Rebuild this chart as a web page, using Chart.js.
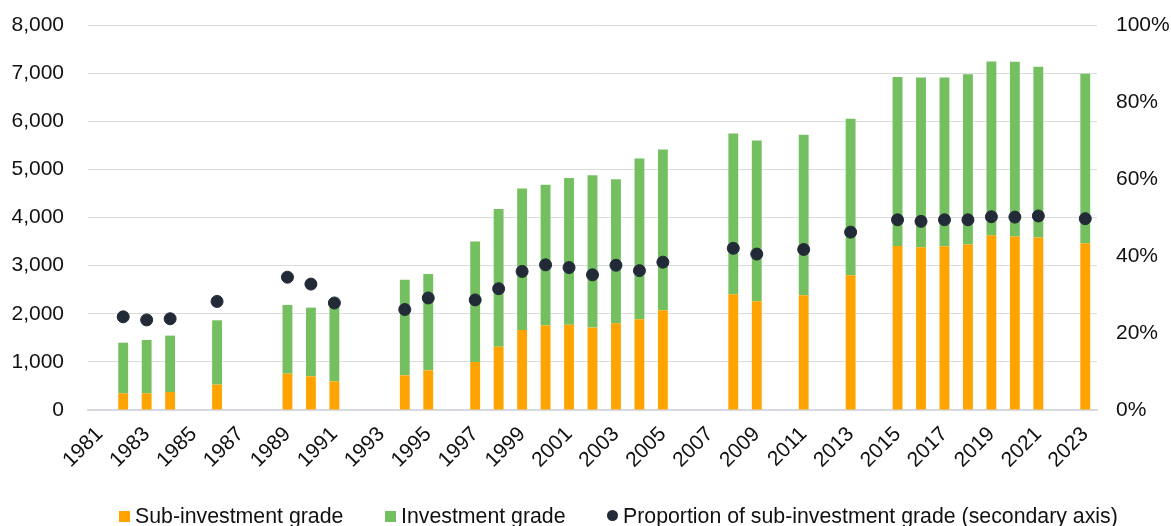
<!DOCTYPE html>
<html>
<head>
<meta charset="utf-8">
<script src="https://cdn.jsdelivr.net/npm/chart.js@4/dist/chart.umd.min.js"></script>
<style>
    html, body { margin: 0; padding: 0; background: #fff; overflow: hidden; }
    #wrap { position: relative; width: 1171px; height: 526px; }
    #legend {
        position: absolute; left: 0; top: 504px; height: 30px; width: 1171px;
        font-family: "Liberation Sans", Arial, sans-serif; font-size: 21.3px; line-height: 24px; color: #111;
        white-space: nowrap;
    }
    #legend span.item { position: absolute; top: 0; }
    #legend i { position: absolute; display: block; }
</style>
</head>
<body>
<div id="wrap">
    <canvas id="chart" width="1171" height="526"></canvas>
    <div id="legend"></div>
</div>
<script>
// Danh sách năm (trục x)
const years = [];
for (let y = 1981; y <= 2023; y++) years.push(String(y));

// Tổng số và phần sub-investment grade, theo năm có dữ liệu
const dataYears = ['1982', '1983', '1984', '1986', '1989', '1990', '1991', '1994', '1995',
    '1997', '1998', '1999', '2000', '2001', '2002', '2003', '2004', '2005', '2008', '2009',
    '2011', '2013', '2015', '2016', '2017', '2018', '2019', '2020', '2021', '2023'];
const subInvestment = [347, 347, 374, 527, 755, 700, 596, 721, 825,
    998, 1316, 1663, 1760, 1774, 1712, 1802, 1885, 2072, 2405, 2259,
    2385, 2800, 3410, 3382, 3403, 3437, 3631, 3604, 3583, 3465];
const totals = [1399, 1455, 1545, 1864, 2183, 2127, 2148, 2709, 2827,
    3500, 4179, 4601, 4678, 4823, 4879, 4796, 5225, 5412, 5745, 5599,
    5717, 6050, 6917, 6910, 6910, 6979, 7242, 7235, 7131, 6985];
const proportion = [24.2, 23.4, 23.7, 28.2, 34.5, 32.7, 27.8, 26.1, 29.1,
    28.6, 31.5, 36.0, 37.7, 37.0, 35.1, 37.6, 36.2, 38.4, 42.0, 40.5,
    41.7, 46.2, 49.4, 49.0, 49.4, 49.4, 50.2, 50.1, 50.4, 49.7];
const leftTicks = [0, 1000, 2000, 3000, 4000, 5000, 6000, 7000, 8000];
const rightTicks = [0, 20, 40, 60, 80, 100];

const FONT = '"Liberation Sans", Arial, sans-serif';
const ORANGE = '#FFA300';
const GREEN = '#74BF60';
const DOT = '#222A37';

// Đưa dữ liệu về đủ 43 năm (null cho năm trống)
function fill(values) {
    return years.map(y => {
        const i = dataYears.indexOf(y);
        return i < 0 ? null : values[i];
    });
}
const investment = totals.map((t, i) => t - subInvestment[i]);

const chart = new Chart(document.getElementById('chart'), {
    type: 'bar',
    data: {
        labels: years,
        datasets: [
            {
                label: 'Proportion of sub-investment grade (secondary axis)',
                type: 'line',
                data: fill(proportion.map(p => p / 100)),
                yAxisID: 'y1',
                showLine: false,
                pointRadius: 6,
                pointHoverRadius: 6,
                pointBackgroundColor: DOT,
                pointBorderColor: DOT,
                borderColor: DOT,
                backgroundColor: DOT,
                order: 0
            },
            {
                label: 'Sub-investment grade',
                data: fill(subInvestment),
                backgroundColor: ORANGE,
                yAxisID: 'y',
                barPercentage: 0.42,
                categoryPercentage: 1,
                order: 1
            },
            {
                label: 'Investment grade',
                data: fill(investment),
                backgroundColor: GREEN,
                yAxisID: 'y',
                barPercentage: 0.42,
                categoryPercentage: 1,
                order: 1
            }
        ]
    },
    options: {
        responsive: false,
        animation: false,
        layout: { padding: { top: 25, left: 0, right: 0, bottom: 0 } },
        plugins: {
            legend: { display: false },
            tooltip: { enabled: false }
        },
        scales: {
            x: {
                stacked: true,
                grid: { display: false, drawTicks: false },
                border: { color: '#D3D8E1', width: 1.5 },
                ticks: {
                    autoSkip: false,
                    maxRotation: 45,
                    minRotation: 45,
                    padding: 12,
                    color: '#111',
                    font: { family: FONT, size: 21 },
                    callback: function(val, i) {
                        return i % 2 === 0 ? years[i] : '';
                    }
                },
                afterFit: s => { s.height = 116; }
            },
            y: {
                stacked: true,
                position: 'left',
                min: 0,
                max: 8000,
                afterBuildTicks: s => { s.ticks = leftTicks.map(v => ({ value: v })); },
                grid: { color: '#DCDCDC', drawTicks: false },
                border: { display: false },
                ticks: {
                    padding: 24,
                    color: '#111',
                    font: { family: FONT, size: 21 },
                    callback: v => v.toLocaleString('en-US')
                },
                afterFit: s => { s.width = 88; s.paddingTop = 0; s.paddingBottom = 0; }
            },
            y1: {
                stacked: false,
                position: 'right',
                min: 0,
                max: 1,
                afterBuildTicks: s => { s.ticks = rightTicks.map(v => ({ value: v / 100 })); },
                grid: { display: false, drawTicks: false },
                border: { display: false },
                ticks: {
                    padding: 19,
                    color: '#111',
                    font: { family: FONT, size: 21 },
                    callback: v => Math.round(v * 100) + '%'
                },
                afterFit: s => { s.width = 74; s.paddingTop = 0; s.paddingBottom = 0; }
            }
        }
    }
});

// Chú thích vẽ bằng HTML
const legendPos = [
    { box: 119, text: 135 },
    { box: 385, text: 401 },
    { box: 612, text: 623 }
];
const legend = document.getElementById('legend');
[1, 2, 0].forEach((di, k) => {
    const ds = chart.data.datasets[di];
    const pos = legendPos[k];
    const mark = document.createElement('i');
    if (ds.type === 'line') {
        mark.style.cssText = `left:${pos.box - 5.5}px;top:6px;width:11px;height:11px;border-radius:50%;background:${DOT}`;
    } else {
        mark.style.cssText = `left:${pos.box}px;top:7px;width:11px;height:11px;background:${ds.backgroundColor}`;
    }
    legend.appendChild(mark);
    const span = document.createElement('span');
    span.className = 'item';
    span.style.left = pos.text + 'px';
    span.textContent = ds.label;
    legend.appendChild(span);
});
</script>
</body>
</html>
